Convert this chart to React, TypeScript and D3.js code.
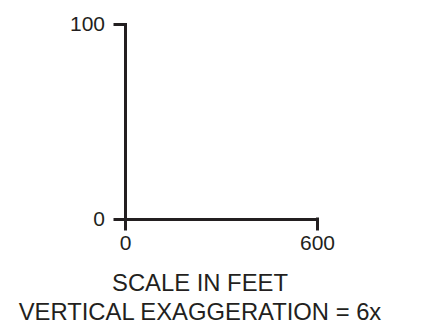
import React, { useEffect, useRef } from "react"
import * as d3 from "d3"

// scale bar values
const xTicks = [0, 600]
const yTicks = [0, 100]
const captionLines = ["SCALE IN FEET", "VERTICAL EXAGGERATION = 6x"]

const INK = "#231f20"

function ScaleBar({ total_width, total_height }: { total_width: number; total_height: number }) {
  const svgRef = useRef<SVGSVGElement>(null)

  useEffect(() => {
    const svg = d3.select(svgRef.current)
    svg.selectAll("*").remove()

    const x = d3.scaleLinear().domain([0, 600]).range([125, 317])
    const y = d3.scaleLinear().domain([0, 100]).range([219, 24])

    // Y axis
    const gy = svg.append("g")
      .attr("transform", "translate(" + x(0) + ",0)")
      .call(d3.axisLeft(y).tickValues(yTicks).tickSize(10).tickSizeOuter(0).tickPadding(10).tickFormat(d3.format("d")))

    // X axis
    const gx = svg.append("g")
      .attr("transform", "translate(0," + y(0) + ")")
      .call(d3.axisBottom(x).tickValues(xTicks).tickSize(10).tickSizeOuter(0).tickPadding(6).tickFormat(d3.format("d")))

    for (const g of [gx, gy]) {
      g.select(".domain").attr("stroke", INK).attr("stroke-width", 3).attr("stroke-linecap", "square")
      g.selectAll(".tick line").attr("stroke", INK).attr("stroke-width", 3).attr("stroke-linecap", "square")
      g.selectAll(".tick text")
        .attr("fill", INK)
        .style("font-family", "Liberation Sans, Arial, sans-serif")
        .style("font-size", "21px")
    }

    // caption
    svg.selectAll("text.caption")
      .data(captionLines)
      .enter()
      .append("text")
      .attr("class", "caption")
      .attr("x", 200)
      .attr("y", (d, i) => 291 + i * 29)
      .attr("text-anchor", "middle")
      .attr("fill", INK)
      .style("font-family", "Liberation Sans, Arial, sans-serif")
      .style("font-size", "23.8px")
      .text(d => d)
  }, [])

  return (
    <svg
      ref={svgRef}
      width={total_width}
      height={total_height}
      style={{ position: "absolute", left: 0, top: 0, background: "#fff" }}
    />
  )
}

export default function App() {
  return <ScaleBar total_width={422} total_height={326} />
}
